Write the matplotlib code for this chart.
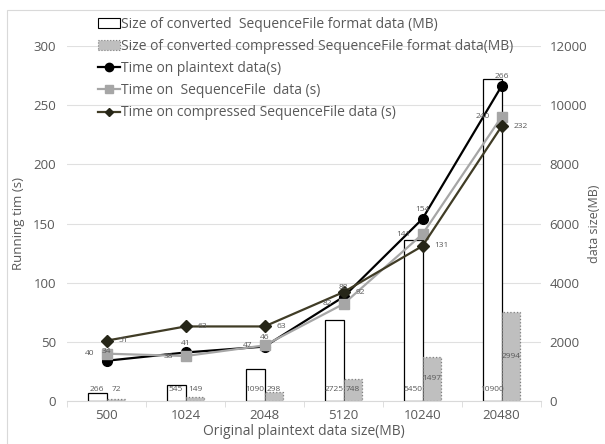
import matplotlib.pyplot as plt
import matplotlib.patches as mpatches
import numpy as np

# Data
categories = ["500", "1024", "2048", "5120", "10240", "20480"]
size_seq = [266, 545, 1090, 2725, 5450, 10900]
size_comp = [72, 149, 298, 748, 1497, 2994]
time_plain = [34, 41, 46, 88, 154, 266]
time_seq = [40, 38, 47, 82, 141, 240]
time_comp = [51, 63, 63, 92, 131, 232]

plt.rcParams["font.family"] = ["Open Sans", "DejaVu Sans"]
txt = "#595959"

fig = plt.figure(figsize=(6.05, 4.44), dpi=100)
ax = fig.add_axes([67 / 605, 1 - 401 / 444, (541 - 67) / 605, (401 - 46) / 444])
ax2 = ax.twinx()
ax.set_zorder(ax2.get_zorder() + 1)
ax.patch.set_visible(False)

x = np.arange(len(categories))
w = 0.24

# Bars on the right axis
ax2.bar(x - w / 2, size_seq, w, color="white", edgecolor="black", linewidth=0.9)
ax2.bar(x + w / 2, size_comp, w, color="#bfbfbf", edgecolor="#7f7f7f",
        linewidth=0.9, linestyle=":")
for i in range(len(x)):
    ax2.text(x[i] - w / 2, 380, str(size_seq[i]), ha="center", va="center",
             fontsize=6, color=txt)
    ax2.text(x[i] + w / 2, max(size_comp[i] / 2, 380), str(size_comp[i]),
             ha="center", va="center", fontsize=6, color=txt)
ax2.set_ylim(0, 12000)
ax2.set_yticks(range(0, 12001, 2000))
ax2.set_ylabel("data size(MB)", color=txt, fontsize=9)
ax2.yaxis.set_label_coords((588 - 67) / 474, 0.5)

# Lines on the left axis
ax.plot(x, time_plain, color="black", lw=1.6, marker="o", ms=7)
ax.plot(x, time_seq, color="#a6a6a6", lw=1.6, marker="s", ms=7)
ax.plot(x, time_comp, color="#403c26", lw=1.6, marker="D", ms=6,
        mfc="#262618", mec="#262618")
for i in range(len(x)):
    ax.text(x[i], time_plain[i] + 5, str(time_plain[i]), ha="center",
            va="bottom", fontsize=6, color=txt)
    ax.text(x[i] - 0.15, time_seq[i], str(time_seq[i]), ha="right",
            va="center", fontsize=6, color=txt)
    ax.text(x[i] + 0.15, time_comp[i], str(time_comp[i]), ha="left",
            va="center", fontsize=6, color=txt)

ax.set_ylim(0, 300)
ax.set_yticks(range(0, 301, 50))
ax.set_xlim(-0.5, len(x) - 0.5)
ax.set_xticks(x)
ax.set_xticklabels(categories)
ax.set_xticks(np.arange(-0.5, len(x), 1), minor=True)
ax.tick_params(axis="x", which="major", length=0, pad=6)
ax.tick_params(axis="x", which="minor", length=4, color="#d9d9d9")
ax.set_ylabel("Running tim (s)", color=txt, fontsize=9.5, labelpad=6)
ax.set_xlabel("Original plaintext data size(MB)", color=txt, fontsize=10,
              labelpad=1)
ax2.yaxis.grid(True, color="#e0e0e0", lw=0.8)
ax2.set_axisbelow(True)

for a in (ax, ax2):
    for s in a.spines.values():
        s.set_visible(False)
    a.tick_params(axis="x", labelsize=9.5, labelcolor=txt)
ax.tick_params(axis="y", length=0, labelsize=9.5, labelcolor=txt, pad=8)
ax2.tick_params(axis="y", length=0, labelsize=9.5, labelcolor=txt, pad=6)
ax.spines["bottom"].set_visible(True)
ax.spines["bottom"].set_color("#d9d9d9")

# Legend
handles = [
    mpatches.Patch(facecolor="white", edgecolor="black", lw=0.8,
                   label="Size of converted  SequenceFile format data (MB)"),
    mpatches.Patch(facecolor="#bfbfbf", edgecolor="#7f7f7f", lw=0.8, ls=":",
                   label="Size of converted compressed SequenceFile format data(MB)"),
    plt.Line2D([], [], color="black", lw=1.6, marker="o", ms=6,
               label="Time on plaintext data(s)"),
    plt.Line2D([], [], color="#a6a6a6", lw=1.6, marker="s", ms=6,
               label="Time on  SequenceFile  data (s)"),
    plt.Line2D([], [], color="#403c26", lw=1.6, marker="D", ms=4,
               mfc="#262618", mec="#262618",
               label="Time on compressed SequenceFile data (s)"),
]
leg = fig.legend(handles=handles, loc="upper left",
                 bbox_to_anchor=(92 / 605, 1 - 11 / 444), frameon=False,
                 fontsize=10, handlelength=1.6, handletextpad=0.1,
                 labelspacing=0.52, borderaxespad=0)
for t in leg.get_texts():
    t.set_color(txt)

# Chart border
fig.patches.append(mpatches.Rectangle((7 / 605, -0.1), 1.2, 1 - 10 / 444 + 0.1,
                                      transform=fig.transFigure, fill=False,
                                      edgecolor="#d9d9d9", lw=0.8))

fig.savefig("out.png", dpi=100)
